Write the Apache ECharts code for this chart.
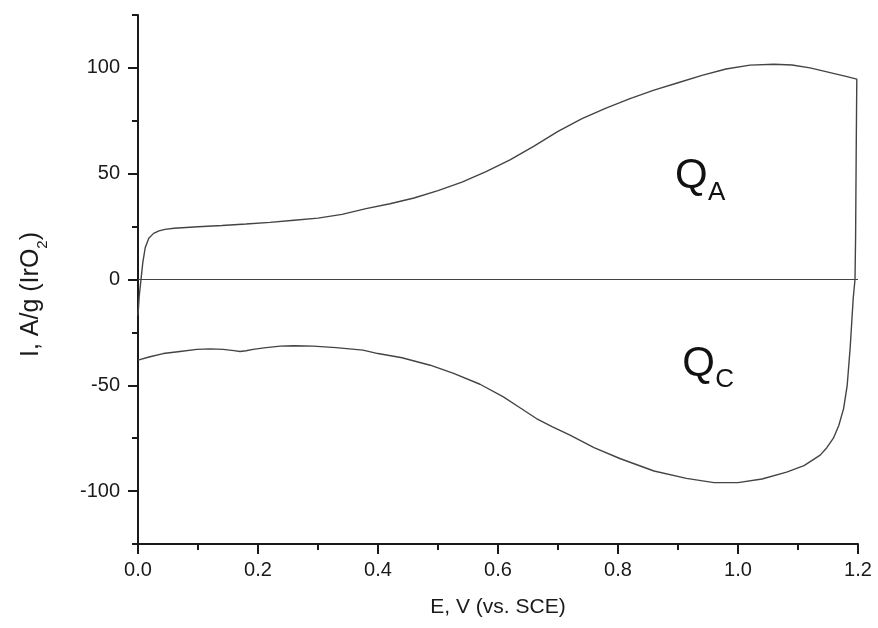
<!DOCTYPE html>
<html>
<head>
<meta charset="utf-8">
<script src="https://cdn.jsdelivr.net/npm/echarts@6/dist/echarts.min.js"></script>
<style>
  html, body { margin: 0; padding: 0; background: #fff; }
  #cv_chart { width: 878px; height: 628px; }
</style>
</head>
<body>
<div id="cv_chart"></div>
<script>
// anodic scan 0 -> 1.2 V, then cathodic scan back to 0 V
const scanE = [
    0.000, 0.002, 0.005, 0.008, 0.012, 0.018, 0.026, 0.035, 0.045, 0.06, 0.08, 0.10,
    0.14, 0.18, 0.22, 0.26, 0.30, 0.34, 0.38, 0.42, 0.46, 0.50, 0.54, 0.58, 0.62,
    0.66, 0.70, 0.74, 0.78, 0.82, 0.86, 0.90, 0.94, 0.98, 1.02, 1.06, 1.09, 1.12,
    1.15, 1.18, 1.198,
    1.197, 1.196, 1.195, 1.192, 1.187, 1.182, 1.176, 1.168, 1.159, 1.148, 1.137,
    1.11, 1.081, 1.04, 1.0, 0.96, 0.914, 0.86, 0.803, 0.76, 0.72, 0.69, 0.664,
    0.636, 0.609, 0.57, 0.526, 0.487, 0.44, 0.40, 0.375, 0.33, 0.292, 0.26, 0.237,
    0.21, 0.192, 0.18, 0.17, 0.16, 0.142, 0.12, 0.098, 0.07, 0.042, 0.02, 0.0
];
const scanI = [
    -17, -8, 0, 8, 15, 19.5, 21.8, 23, 23.7, 24.2, 24.6, 24.9,
    25.5, 26.2, 27, 28, 29, 30.8, 33.5, 35.8, 38.5, 42, 46, 51, 56.5,
    63, 70, 76, 81, 85.5, 89.5, 93, 96.5, 99.5, 101.3, 101.7, 101.4, 100,
    98, 96, 94.7,
    60, 20, 0, -9, -32, -50, -61, -69, -75, -79.5, -83,
    -88, -91, -94.3, -96, -96, -94, -90.5, -84.6, -79.5, -73.6, -69.5, -65.7,
    -60.5, -55.5, -49.5, -44.4, -40.5, -37, -35, -33.4, -32.2, -31.5, -31.3, -31.5,
    -32.3, -33, -33.7, -34, -33.6, -33, -32.8, -33, -34, -35, -36.5, -38.1
];
const zeroLine = [[0, 0], [1.2, 0]];

const yMajorTicks = [-100, -50, 0, 50, 100];
const yMinorTicks = [-125, -75, -25, 25, 75, 125];

// charge region labels (anchor of the Q, in data units)
const chargeLabels = [
    { sub: 'A', E: 0.895, I: 48.5 },
    { sub: 'C', E: 0.907, I: -40 }
];

const FONT = 'Arial, "Liberation Sans", sans-serif';
const INK = '#1a1a1a';

let Chart = echarts.init(document.getElementById('cv_chart'));

let curveData = [];
for (let i = 0; i < scanE.length; ++i)
    curveData.push([scanE[i], scanI[i]]);

let option = {
    animation: false,
    backgroundColor: '#fff',
    grid: { left: 138, right: 20, top: 15, bottom: 84 },
    xAxis: {
        type: 'value',
        min: 0,
        max: 1.2,
        interval: 0.2,
        name: 'E, V (vs. SCE)',
        nameLocation: 'middle',
        nameGap: 53,
        nameTextStyle: { fontFamily: FONT, fontSize: 21, color: INK },
        axisLine: { onZero: false, lineStyle: { color: INK, width: 2 } },
        axisTick: { length: 10, lineStyle: { color: INK, width: 2 } },
        minorTick: { show: true, splitNumber: 2, length: 6, lineStyle: { color: INK, width: 2 } },
        axisLabel: {
            margin: 16,
            fontFamily: FONT, fontSize: 20, color: INK,
            formatter: function (val) { return val.toFixed(1); }
        },
        splitLine: { show: false }
    },
    yAxis: [{
        type: 'value',
        min: -125,
        max: 125,
        name: '{n|I, A/g (IrO}{s|2}{n|)}',
        nameLocation: 'middle',
        nameGap: 94,
        nameTextStyle: {
            padding: [0, 30, 0, 0],
            rich: {
                n: { fontFamily: FONT, fontSize: 25, color: INK },
                s: { fontFamily: FONT, fontSize: 15, color: INK, verticalAlign: 'bottom', padding: [0, 0, -6, 0] }
            }
        },
        axisLine: { show: true, onZero: false, lineStyle: { color: INK, width: 2 } },
        axisTick: { length: 10, customValues: yMajorTicks, lineStyle: { color: INK, width: 2 } },
        axisLabel: {
            margin: 18, customValues: yMajorTicks,
            fontFamily: FONT, fontSize: 20, color: INK
        },
        splitLine: { show: false }
    }, {
        type: 'value',
        min: -125,
        max: 125,
        position: 'left',
        axisLine: { show: false, onZero: false },
        axisTick: { show: true, length: 6, customValues: yMinorTicks, lineStyle: { color: INK, width: 2 } },
        axisLabel: { show: false },
        splitLine: { show: false }
    }],
    series: [{
        type: 'line',
        data: zeroLine,
        symbol: 'none',
        silent: true,
        lineStyle: { color: '#444', width: 1 }
    }, {
        type: 'line',
        data: curveData,
        symbol: 'none',
        smooth: false,
        lineStyle: { color: '#444', width: 1.4 }
    }]
};

Chart.setOption(option);

let graphics = [];
chargeLabels.forEach(function (lab) {
    let p = Chart.convertToPixel({ gridIndex: 0 }, [lab.E, lab.I]);
    graphics.push({
        type: 'text', x: p[0], y: p[1],
        style: { text: 'Q', fontFamily: FONT, fontSize: 42, fill: '#111', align: 'left', verticalAlign: 'middle' }
    });
    graphics.push({
        type: 'text', x: p[0] + 33, y: p[1] + 16,
        style: { text: lab.sub, fontFamily: FONT, fontSize: 26, fill: '#111', align: 'left', verticalAlign: 'middle' }
    });
});
Chart.setOption({ graphic: graphics });
</script>
</body>
</html>
